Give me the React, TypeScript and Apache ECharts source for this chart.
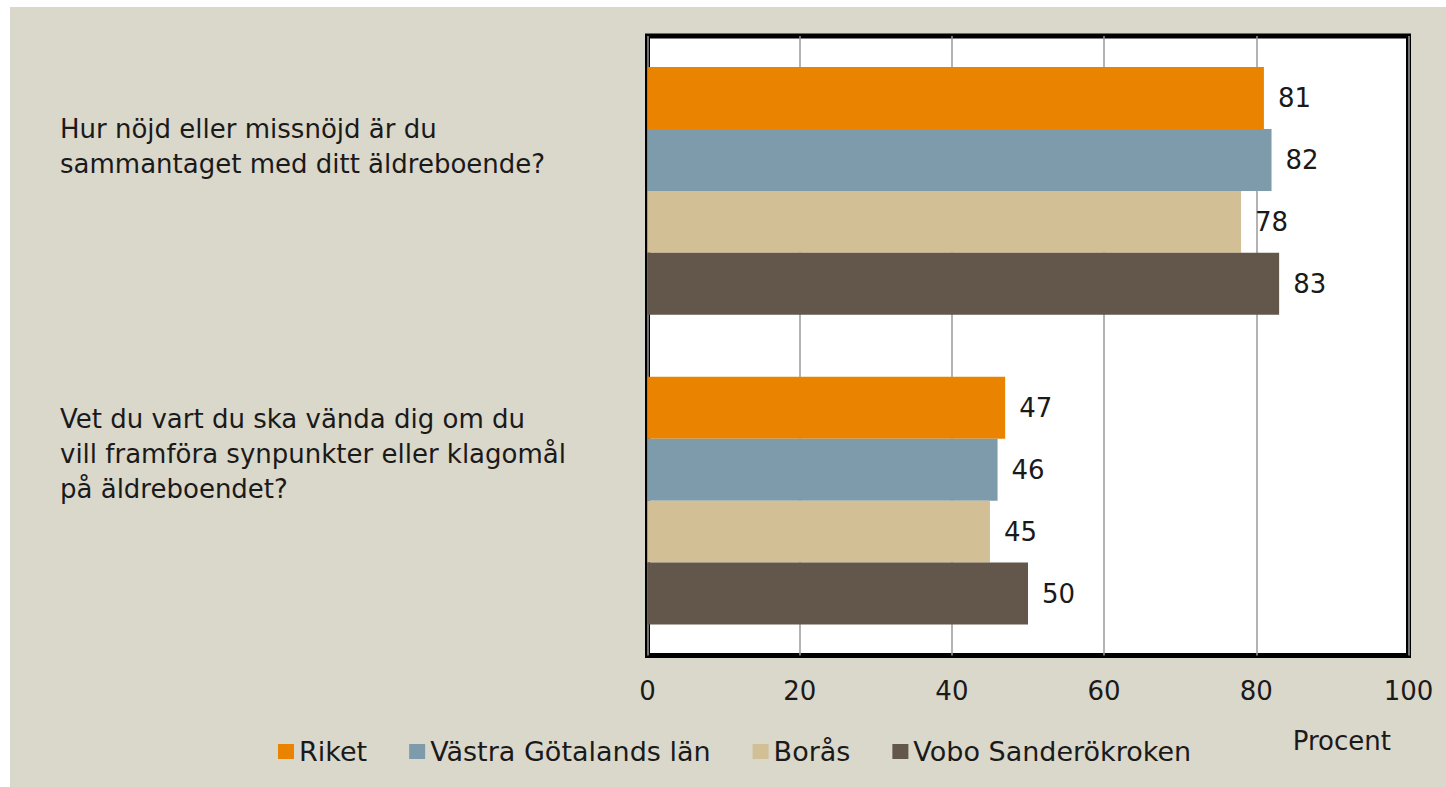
import React, { useEffect, useRef } from "react";
import * as echarts from "echarts";

const categories = [
  "Hur nöjd eller missnöjd är du\nsammantaget med ditt äldreboende?",
  "Vet du vart du ska vända dig om du\nvill framföra synpunkter eller klagomål\npå äldreboendet?",
];
const seriesNames = ["Riket", "Västra Götalands län", "Borås", "Vobo Sanderökroken"];
const riket = [81, 47];
const vastraGotaland = [82, 46];
const boras = [78, 45];
const voboSanderokroken = [83, 50];
const seriesValues = [riket, vastraGotaland, boras, voboSanderokroken];
const seriesColors = ["#E98300", "#7D9BAB", "#D3BF96", "#63564A"];
const axisName = "Procent";

const FONT = "DejaVu Sans";
const TEXT = "#1a1a1a";
const BG = "#DAD7CB";
const labelShift = [44, 47];

export default function App() {
  const ref = useRef<HTMLDivElement>(null);
  useEffect(() => {
    if (!ref.current) return;
    const chart = echarts.init(ref.current, null, { renderer: "svg" });
    const rich: Record<string, any> = {};
    labelShift.forEach((s, i) => {
      rich["g" + i] = { height: s * 2, lineHeight: s * 2, fontSize: 1 };
    });
    chart.setOption({
      animation: false,
      backgroundColor: BG,
      textStyle: { fontFamily: FONT },
      legend: {
        data: seriesNames,
        icon: "rect",
        itemWidth: 16,
        itemHeight: 15,
        itemGap: 42,
        left: 263,
        top: 726,
        textStyle: { fontSize: 27, color: TEXT, fontFamily: FONT },
      },
      grid: {
        show: true,
        left: 637.5,
        top: 29,
        width: 761,
        height: 619.5,
        backgroundColor: "#ffffff",
        borderColor: "#000000",
        borderWidth: 5,
        containLabel: false,
        outerBoundsMode: "none",
      },
      xAxis: {
        type: "value",
        min: 0,
        max: 100,
        interval: 20,
        name: axisName,
        nameLocation: "end",
        nameGap: -17.5,
        nameMoveOverlap: false,
        nameTextStyle: {
          fontSize: 26,
          color: TEXT,
          fontFamily: FONT,
          align: "right",
          verticalAlign: "top",
          lineHeight: 171,
        },
        axisLine: { show: false },
        axisTick: { show: false },
        axisLabel: { fontSize: 26, color: TEXT, fontFamily: FONT, margin: 22 },
        splitLine: { show: true, lineStyle: { color: "#9a9a9a", width: 1.5 } },
      },
      yAxis: {
        type: "category",
        inverse: true,
        data: categories,
        axisLine: { show: false },
        axisTick: { show: false },
        axisLabel: {
          fontSize: 26,
          color: TEXT,
          fontFamily: FONT,
          align: "left",
          verticalAlign: "middle",
          lineHeight: 35,
          margin: 587.5,
          formatter: (v: string, i: number) => `${v}\n{g${i}|}`,
          rich,
        },
        splitLine: { show: false },
      },
      series: seriesNames.map((name, i) => ({
        name,
        type: "bar",
        data: seriesValues[i],
        barGap: "0%",
        barCategoryGap: "20%",
        itemStyle: { color: seriesColors[i] },
        label: {
          show: true,
          position: "right",
          distance: 14,
          fontSize: 26,
          color: TEXT,
          fontFamily: FONT,
        },
      })),
    });
    return () => chart.dispose();
  }, []);
  return (
    <div
      ref={ref}
      style={{ position: "absolute", left: 10, top: 7, width: 1436, height: 780, background: BG }}
    />
  );
}
